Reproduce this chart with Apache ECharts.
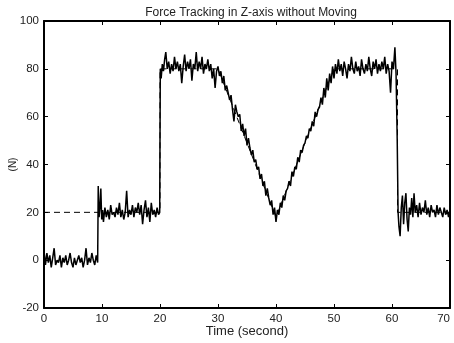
<!DOCTYPE html>
<html>
<head>
<meta charset="utf-8">
<script src="https://cdn.jsdelivr.net/npm/echarts@6/dist/echarts.min.js"></script>
<style>html,body{margin:0;padding:0;background:#fff}#c{width:454px;height:343px}</style>
</head>
<body>
<div id="c"></div>
<script>
const titleText = 'Force Tracking in Z-axis without Moving';
const xTicks = [0, 10, 20, 30, 40, 50, 60, 70];
const yTicks = [-20, 0, 20, 40, 60, 80, 100];

const measured = [
[0,4],[0.25,-2],[0.5,3],[0.75,-1],[1,2],[1.25,-3],[1.5,1],[1.75,5],[2,-2],[2.25,0],[2.5,-1],[2.75,2],[3,-3],[3.25,1],[3.5,-1],[3.75,2],[4,-2],[4.25,0],[4.5,3],[4.75,-1],[5,-3],[5.25,1],[5.5,-2],[5.75,0],[6,2],[6.25,-1],[6.5,1],[6.75,-3],[7,0],[7.25,5],[7.5,-2],[7.75,1],[8,-1],[8.25,3],[8.5,0],[8.75,-2],[9,2],[9.25,-1],
[9.35,31],[9.5,18],[9.65,22],[9.8,30],[9.95,17],[10.1,21],[10.25,16],[10.5,22],[10.75,18],[11,21],[11.25,17],[11.5,23],[11.75,19],[12,20],[12.25,18],[12.5,22],[12.75,19],[13,24],[13.25,18],[13.5,21],[13.75,17],[14,20],[14.25,29],[14.5,18],[14.75,21],[15,19],[15.25,23],[15.5,18],[15.75,22],[16,20],[16.25,24],[16.5,19],[16.75,23],[17,15],[17.25,21],[17.5,25],[17.75,18],[18,22],[18.25,16],[18.5,24],[18.75,19],[19,21],[19.25,18],[19.5,22],[19.75,19],[19.95,20],
[20.05,80],[20.2,76],[20.4,82],[20.6,79],[20.8,84],[21,87],[21.25,80],[21.5,83],[21.75,78],[22,82],[22.25,79],[22.5,85],[22.75,80],[23,83],[23.25,79],[23.5,82],[23.75,74],[24,81],[24.25,86],[24.5,79],[24.75,83],[25,80],[25.25,84],[25.5,75],[25.75,82],[26,80],[26.25,87],[26.5,79],[26.75,83],[27,80],[27.25,85],[27.5,78],[27.75,82],[28,80],[28.25,84],[28.5,79],[28.75,82],[29,76],[29.25,80],[29.5,72],[29.75,79],[30,81],
[30.25,77],[30.5,79],[30.75,74],[31,77],[31.25,71],[31.5,73],[31.75,70],[32,67],[32.25,69],[32.5,63],[32.75,58],[33,65],[33.25,62],[33.5,60],[33.75,61],[34,54],[34.25,57],[34.5,52],[34.75,55],[35,48],[35.25,51],[35.5,47],[35.75,44],[36,46],[36.25,41],[36.5,42],[36.75,38],[37,39],[37.25,34],[37.5,36],[37.75,31],[38,33],[38.25,27],[38.5,30],[38.75,26],[39,23],[39.25,25],[39.5,19],[39.75,22],[40,16],
[40.25,21],[40.5,19],[40.75,24],[41,22],[41.25,27],[41.5,25],[41.75,29],[42,30],[42.25,33],[42.5,31],[42.75,37],[43,35],[43.25,39],[43.5,38],[43.75,43],[44,41],[44.25,46],[44.5,45],[44.75,48],[45,49],[45.25,52],[45.5,51],[45.75,55],[46,54],[46.25,58],[46.5,56],[46.75,62],[47,60],[47.25,63],[47.5,64],[47.75,68],[48,65],[48.25,72],[48.5,68],[48.75,76],[49,71],[49.25,78],[49.5,74],[49.75,81],[50,76],
[50.25,82],[50.5,78],[50.75,84],[51,79],[51.25,82],[51.5,77],[51.75,83],[52,80],[52.25,76],[52.5,82],[52.75,79],[53,85],[53.25,80],[53.5,78],[53.75,83],[54,79],[54.25,81],[54.5,77],[54.75,84],[55,80],[55.25,78],[55.5,82],[55.75,79],[56,85],[56.25,80],[56.5,77],[56.75,83],[57,80],[57.25,84],[57.5,78],[57.75,82],[58,79],[58.25,83],[58.5,80],[58.75,85],[59,78],[59.25,82],[59.5,79],[59.75,70],[60,83],[60.25,80],[60.5,89],[60.7,78],[60.9,50],
[61.05,20],[61.2,14],[61.4,10],[61.6,22],[61.8,27],[62,15],[62.2,24],[62.4,28],[62.6,17],[62.8,12],[63,22],[63.2,19],[63.4,26],[63.6,18],[63.8,28],[64,20],[64.25,23],[64.5,18],[64.75,24],[65,19],[65.25,22],[65.5,20],[65.75,25],[66,19],[66.25,22],[66.5,18],[66.75,23],[67,20],[67.25,21],[67.5,18],[67.75,23],[68,19],[68.25,22],[68.5,20],[68.75,18],[69,22],[69.25,19],[69.5,21],[69.75,18],[70,21]
];

// reference (desired) force, dashed
const reference = [[0,20],[20,20],[20,80],[30,80],[40,18],[50,80],[60.95,80],[60.95,20],[70,20]];

const chart = echarts.init(document.getElementById('c'), null, {renderer: 'canvas'});
const FONT = 'Liberation Sans, Arial, sans-serif';
function axisFont() { return {fontFamily: FONT, fontSize: 11.5, color: '#222', margin: 5}; }
function axLine() { return {show: true, onZero: false, lineStyle: {color: '#000', width: 2}}; }
function tick() { return {show: true, inside: true, length: 4, lineStyle: {color: '#000', width: 1}}; }
chart.setOption({
  animation: false,
  backgroundColor: '#fff',
  title: {
    text: titleText, left: 246, top: 2, textAlign: 'center',
    textStyle: {fontFamily: FONT, fontSize: 12, fontWeight: 'normal', color: '#222'}
  },
  grid: {left: 43, right: 4, top: 21, bottom: 34},
  xAxis: [{
    type: 'value', min: xTicks[0], max: xTicks[xTicks.length-1], interval: 10, position: 'bottom',
    name: 'Time (second)', nameLocation: 'middle', nameGap: 17, nameMoveOverlap: false,
    nameTextStyle: {fontFamily: FONT, fontSize: 13, lineHeight: 13, color: '#222'},
    axisLine: axLine(), axisTick: tick(),
    axisLabel: Object.assign(axisFont(), {alignMaxLabel: 'right'}), splitLine: {show: false}
  }, {
    type: 'value', min: xTicks[0], max: xTicks[xTicks.length-1], interval: 10, position: 'top',
    axisLine: axLine(), axisTick: tick(),
    axisLabel: {show: false}, splitLine: {show: false}
  }],
  yAxis: [{
    type: 'value', min: yTicks[0], max: yTicks[yTicks.length-1], interval: 20, position: 'left',
    name: '(N)', nameLocation: 'middle', nameGap: 26, nameRotate: 90, nameMoveOverlap: false,
    nameTextStyle: {fontFamily: FONT, fontSize: 10, color: '#222'},
    axisLine: axLine(), axisTick: tick(),
    axisLabel: axisFont(), splitLine: {show: false}
  }, {
    type: 'value', min: yTicks[0], max: yTicks[yTicks.length-1], interval: 20, position: 'right',
    axisLine: axLine(), axisTick: tick(),
    axisLabel: {show: false}, splitLine: {show: false}
  }],
  series: [{
    type: 'line', data: reference, xAxisIndex: 1, yAxisIndex: 1, showSymbol: false, symbol: 'none', z: 1,
    lineStyle: {color: '#000', width: 1, type: [6, 4]}
  }, {
    type: 'line', data: measured, xAxisIndex: 0, yAxisIndex: 0, showSymbol: false, symbol: 'none', z: 2,
    lineStyle: {color: '#000', width: 1.5}
  }]
});
</script>
</body>
</html>
